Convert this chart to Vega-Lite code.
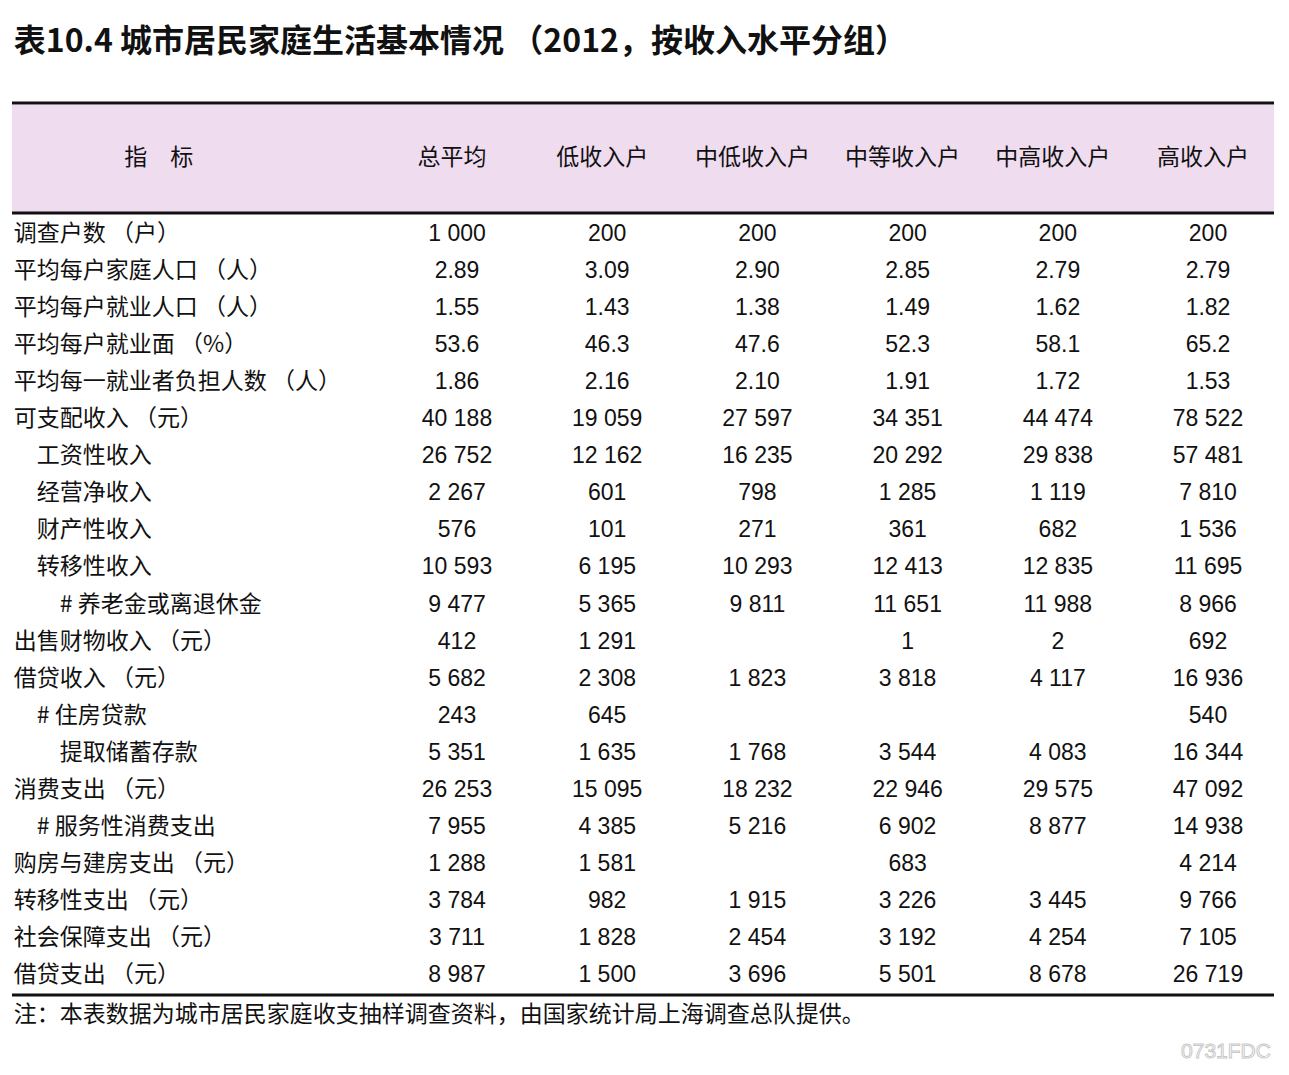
{
  "$schema": "https://vega.github.io/schema/vega-lite/v6.json",
  "autosize": {"type": "fit", "contains": "padding"},
  "width": 1289,
  "height": 1075,
  "padding": {"left": 10, "right": 13, "top": 0, "bottom": 0},
  "background": "#ffffff",
  "config": {"view": {"stroke": null}},
  "data": {"values": [
    {"行": 1, "指标": "调查户数 （户）", "总平均": "1 000", "低收入户": "200", "中低收入户": "200", "中等收入户": "200", "中高收入户": "200", "高收入户": "200"},
    {"行": 2, "指标": "平均每户家庭人口 （人）", "总平均": "2.89", "低收入户": "3.09", "中低收入户": "2.90", "中等收入户": "2.85", "中高收入户": "2.79", "高收入户": "2.79"},
    {"行": 3, "指标": "平均每户就业人口 （人）", "总平均": "1.55", "低收入户": "1.43", "中低收入户": "1.38", "中等收入户": "1.49", "中高收入户": "1.62", "高收入户": "1.82"},
    {"行": 4, "指标": "平均每户就业面 （%）", "总平均": "53.6", "低收入户": "46.3", "中低收入户": "47.6", "中等收入户": "52.3", "中高收入户": "58.1", "高收入户": "65.2"},
    {"行": 5, "指标": "平均每一就业者负担人数 （人）", "总平均": "1.86", "低收入户": "2.16", "中低收入户": "2.10", "中等收入户": "1.91", "中高收入户": "1.72", "高收入户": "1.53"},
    {"行": 6, "指标": "可支配收入 （元）", "总平均": "40 188", "低收入户": "19 059", "中低收入户": "27 597", "中等收入户": "34 351", "中高收入户": "44 474", "高收入户": "78 522"},
    {"行": 7, "指标": "\u200b\u3000工资性收入", "总平均": "26 752", "低收入户": "12 162", "中低收入户": "16 235", "中等收入户": "20 292", "中高收入户": "29 838", "高收入户": "57 481"},
    {"行": 8, "指标": "\u200b\u3000经营净收入", "总平均": "2 267", "低收入户": "601", "中低收入户": "798", "中等收入户": "1 285", "中高收入户": "1 119", "高收入户": "7 810"},
    {"行": 9, "指标": "\u200b\u3000财产性收入", "总平均": "576", "低收入户": "101", "中低收入户": "271", "中等收入户": "361", "中高收入户": "682", "高收入户": "1 536"},
    {"行": 10, "指标": "\u200b\u3000转移性收入", "总平均": "10 593", "低收入户": "6 195", "中低收入户": "10 293", "中等收入户": "12 413", "中高收入户": "12 835", "高收入户": "11 695"},
    {"行": 11, "指标": "\u200b\u3000\u3000# 养老金或离退休金", "总平均": "9 477", "低收入户": "5 365", "中低收入户": "9 811", "中等收入户": "11 651", "中高收入户": "11 988", "高收入户": "8 966"},
    {"行": 12, "指标": "出售财物收入 （元）", "总平均": "412", "低收入户": "1 291", "中低收入户": "", "中等收入户": "1", "中高收入户": "2", "高收入户": "692"},
    {"行": 13, "指标": "借贷收入 （元）", "总平均": "5 682", "低收入户": "2 308", "中低收入户": "1 823", "中等收入户": "3 818", "中高收入户": "4 117", "高收入户": "16 936"},
    {"行": 14, "指标": "\u200b\u3000# 住房贷款", "总平均": "243", "低收入户": "645", "中低收入户": "", "中等收入户": "", "中高收入户": "", "高收入户": "540"},
    {"行": 15, "指标": "\u200b\u3000\u3000提取储蓄存款", "总平均": "5 351", "低收入户": "1 635", "中低收入户": "1 768", "中等收入户": "3 544", "中高收入户": "4 083", "高收入户": "16 344"},
    {"行": 16, "指标": "消费支出 （元）", "总平均": "26 253", "低收入户": "15 095", "中低收入户": "18 232", "中等收入户": "22 946", "中高收入户": "29 575", "高收入户": "47 092"},
    {"行": 17, "指标": "\u200b\u3000# 服务性消费支出", "总平均": "7 955", "低收入户": "4 385", "中低收入户": "5 216", "中等收入户": "6 902", "中高收入户": "8 877", "高收入户": "14 938"},
    {"行": 18, "指标": "购房与建房支出 （元）", "总平均": "1 288", "低收入户": "1 581", "中低收入户": "", "中等收入户": "683", "中高收入户": "", "高收入户": "4 214"},
    {"行": 19, "指标": "转移性支出 （元）", "总平均": "3 784", "低收入户": "982", "中低收入户": "1 915", "中等收入户": "3 226", "中高收入户": "3 445", "高收入户": "9 766"},
    {"行": 20, "指标": "社会保障支出 （元）", "总平均": "3 711", "低收入户": "1 828", "中低收入户": "2 454", "中等收入户": "3 192", "中高收入户": "4 254", "高收入户": "7 105"},
    {"行": 21, "指标": "借贷支出 （元）", "总平均": "8 987", "低收入户": "1 500", "中低收入户": "3 696", "中等收入户": "5 501", "中高收入户": "8 678", "高收入户": "26 719"}
  ]},
  "layer": [
    {
      "data": {"values": [{}]},
      "mark": {"type": "rect", "color": "#efdcef"},
      "encoding": {
        "y": {"datum": -2.482, "type": "quantitative", "scale": {"domain": [1, 21], "range": [234, 975], "nice": false, "zero": false}, "axis": null},
        "y2": {"datum": 0.406}
      }
    },
    {
      "data": {"values": [{}]},
      "mark": {"type": "rule", "color": "#111111", "strokeWidth": 3},
      "encoding": {"y": {"datum": -2.536, "type": "quantitative"}}
    },
    {
      "data": {"values": [{}]},
      "mark": {"type": "rule", "color": "#111111", "strokeWidth": 3},
      "encoding": {"y": {"datum": 0.433, "type": "quantitative"}}
    },
    {
      "data": {"values": [{}]},
      "mark": {"type": "rule", "color": "#111111", "strokeWidth": 3},
      "encoding": {"y": {"datum": 21.54, "type": "quantitative"}}
    },
    {
      "data": {"values": [{"文字": "表10.4 城市居民家庭生活基本情况  （2012，按收入水平分组）"}]},
      "mark": {"type": "text", "align": "left", "baseline": "middle", "dx": -293, "font": "Noto Sans CJK SC", "fontSize": 32, "fontWeight": "bold", "color": "#111111"},
      "encoding": {
        "x": {"datum": "指标", "type": "nominal", "scale": {"type": "point", "domain": ["指标", "总平均", "低收入户", "中低收入户", "中等收入户", "中高收入户", "高收入户"], "range": [294.8, 1196], "padding": 0}, "axis": null},
        "y": {"datum": -4.182, "type": "quantitative"},
        "text": {"field": "文字"}
      }
    },
    {
      "data": {"values": [{"列": "指标", "名称": "指\u3000标"}]},
      "mark": {"type": "text", "align": "center", "baseline": "middle", "dx": -148, "font": "Noto Sans CJK SC", "fontSize": 23, "color": "#111111"},
      "encoding": {
        "x": {"field": "列", "type": "nominal"},
        "y": {"datum": -1.051, "type": "quantitative"},
        "text": {"field": "名称"}
      }
    },
    {
      "data": {"values": [{"列": "总平均"}, {"列": "低收入户"}, {"列": "中低收入户"}, {"列": "中等收入户"}, {"列": "中高收入户"}, {"列": "高收入户"}]},
      "mark": {"type": "text", "align": "center", "baseline": "middle", "dx": -5, "font": "Noto Sans CJK SC", "fontSize": 23, "color": "#111111"},
      "encoding": {
        "x": {"field": "列", "type": "nominal"},
        "y": {"datum": -1.051, "type": "quantitative"},
        "text": {"field": "列"}
      }
    },
    {
      "mark": {"type": "text", "align": "left", "baseline": "middle", "dx": -293, "font": "Noto Sans CJK SC", "fontSize": 23, "color": "#111111"},
      "encoding": {
        "x": {"datum": "指标", "type": "nominal"},
        "y": {"field": "行", "type": "quantitative"},
        "text": {"field": "指标"}
      }
    },
    {
      "transform": [{"fold": ["总平均", "低收入户", "中低收入户", "中等收入户", "中高收入户", "高收入户"], "as": ["列", "数值"]}],
      "mark": {"type": "text", "align": "center", "baseline": "middle", "font": "Liberation Sans", "fontSize": 23, "color": "#111111"},
      "encoding": {
        "x": {"field": "列", "type": "nominal"},
        "y": {"field": "行", "type": "quantitative"},
        "text": {"field": "数值"}
      }
    },
    {
      "data": {"values": [{"文字": "注：本表数据为城市居民家庭收支抽样调查资料，由国家统计局上海调查总队提供。"}]},
      "mark": {"type": "text", "align": "left", "baseline": "middle", "dx": -293, "font": "Noto Sans CJK SC", "fontSize": 23, "color": "#111111"},
      "encoding": {
        "x": {"datum": "指标", "type": "nominal"},
        "y": {"datum": 22.08, "type": "quantitative"},
        "text": {"field": "文字"}
      }
    },
    {
      "data": {"values": [{"文字": "0731FDC"}]},
      "mark": {"type": "text", "align": "center", "baseline": "middle", "dx": 18, "font": "Liberation Sans", "fontSize": 21, "fill": "#ffffff", "stroke": "#c8c8c8", "strokeWidth": 1},
      "encoding": {
        "x": {"datum": "高收入户", "type": "nominal"},
        "y": {"datum": 23.08, "type": "quantitative"},
        "text": {"field": "文字"}
      }
    }
  ]
}
